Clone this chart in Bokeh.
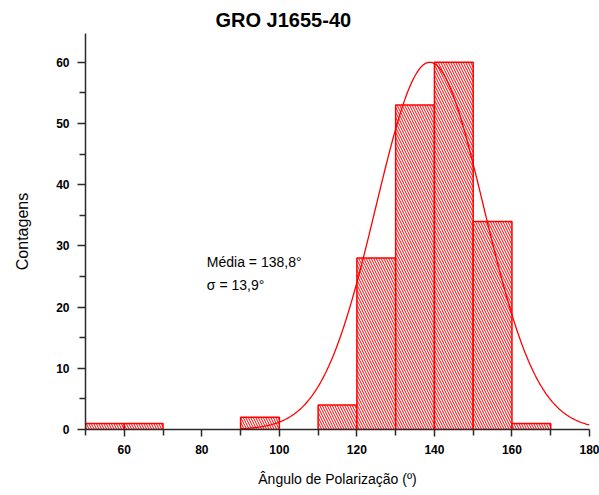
import numpy as np
from bokeh.plotting import figure
from bokeh.models import Range1d, FixedTicker, ColumnDataSource, Title
from bokeh.core.properties import value
from bokeh.embed import file_html
from bokeh.resources import INLINE

# Histogram of polarization angles (bins of 10 degrees)
bin_left = [50, 60, 90, 110, 120, 130, 140, 150, 160]
bin_right = [60, 70, 100, 120, 130, 140, 150, 160, 170]
counts = [1, 1, 2, 4, 28, 53, 60, 34, 1]

# Gaussian fit parameters
fit_mean = 138.8
fit_sigma = 13.9
fit_amplitude = 60.0
fit_start, fit_end = 90, 180

x_major = [60, 80, 100, 120, 140, 160, 180]
x_minor = [50, 70, 90, 110, 130, 150, 170]
y_major = [0, 10, 20, 30, 40, 50, 60]
y_minor = [5, 15, 25, 35, 45, 55]

RED = "#ff0000"
AXIS = "#2a2a2a"
FONT = "Liberation Sans"

p = figure(width=599, height=495, output_backend="svg", toolbar_location=None,
           x_range=Range1d(50, 180), y_range=Range1d(0, 64.7),
           min_border_left=85, min_border_right=10,
           min_border_top=33, min_border_bottom=66,
           background_fill_color="white", border_fill_color="white")
p.title = None
p.outline_line_color = None
p.xgrid.visible = False
p.ygrid.visible = False

title = Title(text="GRO J1655-40", align="left", offset=130,
              text_font=FONT, text_font_size="20px", text_font_style="bold",
              text_color="black", standoff=6)
p.add_layout(title, "above")

src = ColumnDataSource(dict(left=bin_left, right=bin_right, top=counts,
                            bottom=[0] * len(counts)))
p.quad(left="left", right="right", top="top", bottom="bottom", source=src,
       fill_color="white", line_color=RED, line_width=1.5,
       hatch_pattern="\\", hatch_color=RED, hatch_scale=5, hatch_weight=1)

xs = np.linspace(fit_start, fit_end, 400)
ys = fit_amplitude * np.exp(-((xs - fit_mean) ** 2) / (2 * fit_sigma ** 2))
p.line(xs, ys, line_color=RED, line_width=1.3)

p.text(x=[81.3, 81.3], y=[27.3, 23.6],
       text=["Média = 138,8°", "σ = 13,9°"],
       text_font=value(FONT), text_font_size="14px", text_color="black",
       text_baseline="alphabetic", text_align="left")

for ax in (p.xaxis[0], p.yaxis[0]):
    ax.axis_line_color = AXIS
    ax.axis_line_width = 1.5
    ax.major_tick_line_color = AXIS
    ax.minor_tick_line_color = AXIS
    ax.major_tick_line_width = 1.5
    ax.minor_tick_line_width = 1.5
    ax.major_tick_in = 0
    ax.minor_tick_in = 0
    ax.major_label_text_font = FONT
    ax.major_label_text_font_size = "12px"
    ax.major_label_text_font_style = "bold"
    ax.major_label_text_color = "black"
    ax.axis_label_text_font = FONT
    ax.axis_label_text_font_style = "normal"
    ax.axis_label_text_color = "black"

p.xaxis.ticker = FixedTicker(ticks=x_major, minor_ticks=x_minor)
p.yaxis.ticker = FixedTicker(ticks=y_major, minor_ticks=y_minor)

p.xaxis.major_tick_out = 7
p.xaxis.minor_tick_out = 6
p.yaxis.major_tick_out = 8
p.yaxis.minor_tick_out = 6
p.xaxis.major_label_standoff = 8
p.yaxis.major_label_standoff = 8

p.xaxis.axis_label = "Ângulo de Polarização (º)"
p.xaxis.axis_label_text_font_size = "14px"
p.xaxis.axis_label_standoff = 14
p.yaxis.axis_label = "Contagens"
p.yaxis.axis_label_text_font_size = "16px"
p.yaxis.axis_label_standoff = 22

open("out.html", "w").write(file_html(p, INLINE))
